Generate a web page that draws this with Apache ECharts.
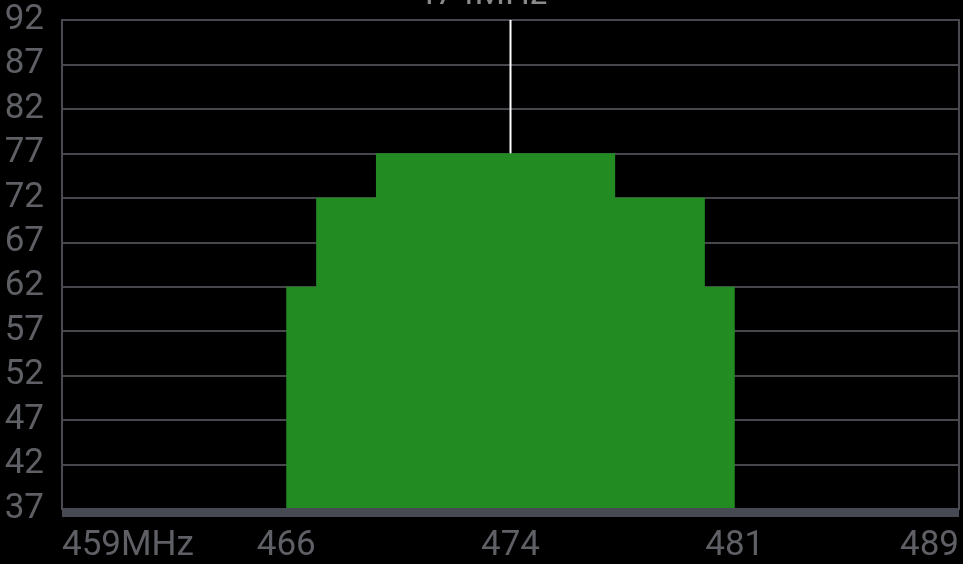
<!DOCTYPE html>
<html>
<head>
<meta charset="utf-8">
<script src="https://cdn.jsdelivr.net/npm/echarts@6/dist/echarts.min.js"></script>
<style>
html,body{margin:0;padding:0;background:#000;}
#chart{width:963px;height:564px;}
</style>
</head>
<body>
<div id="chart"></div>
<script>
// Frequency bins (MHz) and level per bin
const freqMHz = [459,460,461,462,463,464,465,466,467,468,469,470,471,472,473,474,475,476,477,478,479,480,481,482,483,484,485,486,487,488,489];
const levelDb = [37,37,37,37,37,37,37,37,62,72,72,77,77,77,77,77,77,77,77,72,72,72,62,37,37,37,37,37,37,37,37];
const centerMHz = 474;
const titleText = '474MHz';
const xMin = 459, xMax = 489, xStep = 7.5;
const yMin = 37, yMax = 92, yStep = 5;
const unit = 'MHz';

const chart = echarts.init(document.getElementById('chart'), null, {renderer: 'canvas'});
const font = 'Roboto, "Liberation Sans", sans-serif';
chart.setOption({
  backgroundColor: '#000000',
  animation: false,
  title: {
    text: titleText,
    left: 'center',
    top: -22,
    padding: 0,
    textStyle: {color: '#8a8a8a', fontSize: 35, fontWeight: 'normal', fontFamily: font}
  },
  grid: {
    left: 62, right: 4, top: 20, bottom: 53,
    show: true, borderColor: '#4a4b50', borderWidth: 2, backgroundColor: 'transparent'
  },
  xAxis: {
    type: 'value', min: xMin, max: xMax, interval: xStep,
    z: 10,
    offset: 3,
    axisLine: {show: true, lineStyle: {color: '#474a52', width: 9, cap: 'butt'}},
    axisTick: {show: false},
    splitLine: {show: false},
    axisLabel: {
      color: '#5e6065', fontSize: 35, fontFamily: font, margin: 17,
      alignMinLabel: 'left', alignMaxLabel: 'right',
      formatter: v => v === xMin ? (v + unit) : String(Math.floor(v))
    }
  },
  yAxis: {
    type: 'value', min: yMin, max: yMax, interval: yStep,
    axisLine: {show: true, lineStyle: {color: '#4a4b50', width: 2}},
    axisTick: {show: false},
    splitLine: {show: true, lineStyle: {color: '#46474c', width: 2}},
    axisLabel: {color: '#5e6065', fontSize: 35, fontFamily: font, margin: 18}
  },
  series: [
    {
      type: 'line',
      z: 1,
      data: [[centerMHz, yMin], [centerMHz, yMax]],
      showSymbol: false,
      lineStyle: {color: '#ffffff', width: 2},
      silent: true
    },
    {
      type: 'line',
      z: 2,
      step: 'middle',
      data: freqMHz.map((f, i) => [f, levelDb[i]]),
      showSymbol: false,
      lineStyle: {width: 0},
      areaStyle: {color: '#228b22', opacity: 1, origin: 'start'},
      silent: true
    }
  ]
});
</script>
</body>
</html>
